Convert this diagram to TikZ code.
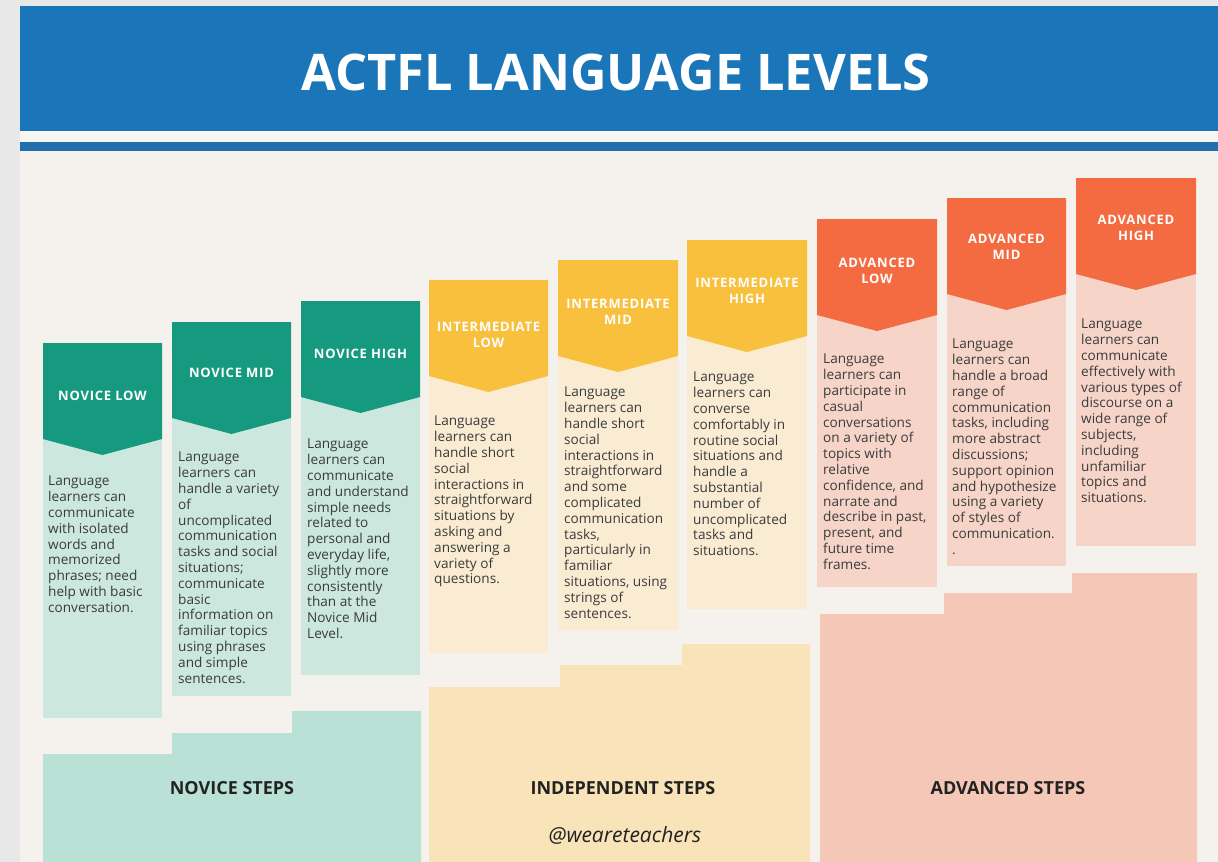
\documentclass[tikz,border=0pt]{standalone}
\usepackage{fontspec}
\setmainfont{Open Sans}
\newfontfamily\hdrfont[LetterSpace=6]{Open Sans}
\definecolor{pageGray}{HTML}{E8E8E8}
\definecolor{cream}{HTML}{F5F2ED}
\definecolor{hdrBlue}{HTML}{1B76B9}
\definecolor{stripeBlue}{HTML}{2170AD}
\definecolor{stripeWhite}{HTML}{F8F6F2}
\definecolor{teal}{HTML}{169A7F}
\definecolor{tealLight}{HTML}{CBE7DE}
\definecolor{tealStep}{HTML}{B9E1D5}
\definecolor{gold}{HTML}{F8C03C}
\definecolor{goldLight}{HTML}{F9ECD3}
\definecolor{goldStep}{HTML}{F8E4B8}
\definecolor{coral}{HTML}{F56B41}
\definecolor{coralLight}{HTML}{F6D5C8}
\definecolor{coralStep}{HTML}{F5C7B7}
\definecolor{textGray}{HTML}{3B3B3B}
\definecolor{stepText}{HTML}{222222}
\begin{document}
\begin{tikzpicture}[x=1bp,y=-1bp,
  hdr/.style={text=white, inner sep=0pt, align=center,
    font={\hdrfont\bfseries\fontsize{13bp}{16bp}\selectfont}},
  body/.style={anchor=north west, text=textGray, inner sep=0pt, align=left,
    font={\fontsize{13.6bp}{15.8bp}\selectfont}},
  steplabel/.style={text=stepText, inner sep=0pt,
    font={\bfseries\fontsize{18bp}{20bp}\selectfont}}]
\useasboundingbox (0,0) rectangle (1218,862);
% backgrounds
\fill[pageGray] (0,0) rectangle (1218,862);
\fill[cream] (20,6) rectangle (1218,862);
\fill[hdrBlue] (20,6) rectangle (1218,131);
\fill[stripeWhite] (20,131) rectangle (1218,142);
\fill[stripeBlue] (20,142) rectangle (1218,150.5);
\node[text=white, inner sep=0pt, font={\bfseries\fontsize{50.5bp}{56bp}\selectfont}] (title) at (616,72) {ACTFL LANGUAGE LEVELS};
% lower step blocks
\fill[tealStep] (43,862) -- (43,754) -- (172,754) -- (172,733) -- (292,733) -- (292,711) -- (421,711) -- (421,862) -- cycle;
\fill[goldStep] (429,862) -- (429,687) -- (560,687) -- (560,665) -- (682,665) -- (682,644) -- (810,644) -- (810,862) -- cycle;
\fill[coralStep] (820,862) -- (820,614) -- (944,614) -- (944,593) -- (1072,593) -- (1072,573) -- (1197,573) -- (1197,862) -- cycle;
\node[steplabel] (novsteps) at (232,788) {NOVICE STEPS};
\node[steplabel] (indsteps) at (623,788) {INDEPENDENT STEPS};
\node[steplabel] (advsteps) at (1008,788) {ADVANCED STEPS};
\node[text=stepText, inner sep=0pt, font={\itshape\fontsize{21bp}{22bp}\selectfont}] (handle) at (625,835) {@weareteachers};
% column 1
\fill[tealLight] (43,343) rectangle (162,718);
\fill[teal] (43,343) -- (162,343) -- (162,439) -- (102.5,455) -- (43,439) -- cycle;
\node[hdr] (h1) at (102.5,396) {NOVICE LOW};
\node[body] (t1) at (48,476) {Language\\learners can\\communicate\\with isolated\\words and\\memorized\\phrases; need\\help with basic\\conversation.};
% column 2
\fill[tealLight] (172,322) rectangle (291,696);
\fill[teal] (172,322) -- (291,322) -- (291,418) -- (231.5,434) -- (172,418) -- cycle;
\node[hdr] (h2) at (231.5,373) {NOVICE MID};
\node[body] (t2) at (178,452) {Language\\learners can\\handle a variety\\of\\uncomplicated\\communication\\tasks and social\\situations;\\communicate\\basic\\information on\\familiar topics\\using phrases\\and simple\\sentences.};
% column 3
\fill[tealLight] (301,301) rectangle (420,675);
\fill[teal] (301,301) -- (420,301) -- (420,397) -- (360.5,413) -- (301,397) -- cycle;
\node[hdr] (h3) at (360.5,354) {NOVICE HIGH};
\node[body] (t3) at (307,439) {Language\\learners can\\communicate\\and understand\\simple needs\\related to\\personal and\\everyday life,\\slightly more\\consistently\\than at the\\Novice Mid\\Level.};
% column 4
\fill[goldLight] (429,280) rectangle (548,653);
\fill[gold] (429,280) -- (548,280) -- (548,376) -- (488.5,392) -- (429,376) -- cycle;
\node[hdr] (h4) at (488.5,335) {INTERMEDIATE\\LOW};
\node[body] (t4) at (434,416) {Language\\learners can\\handle short\\social\\interactions in\\straightforward\\situations by\\asking and\\answering a\\variety of\\questions.};
% column 5
\fill[goldLight] (558,260) rectangle (678,630);
\fill[gold] (558,260) -- (678,260) -- (678,356) -- (618,372) -- (558,356) -- cycle;
\node[hdr] (h5) at (618,312) {INTERMEDIATE\\MID};
\node[body] (t5) at (564,387) {Language\\learners can\\handle short\\social\\interactions in\\straightforward\\and some\\complicated\\communication\\tasks,\\particularly in\\familiar\\situations, using\\strings of\\sentences.};
% column 6
\fill[goldLight] (687,240) rectangle (807,609);
\fill[gold] (687,240) -- (807,240) -- (807,336) -- (747,352) -- (687,336) -- cycle;
\node[hdr] (h6) at (747,291) {INTERMEDIATE\\HIGH};
\node[body] (t6) at (693,372) {Language\\learners can\\converse\\comfortably in\\routine social\\situations and\\handle a\\substantial\\number of\\uncomplicated\\tasks and\\situations.};
% column 7
\fill[coralLight] (817,219) rectangle (937,587);
\fill[coral] (817,219) -- (937,219) -- (937,315) -- (877,331) -- (817,315) -- cycle;
\node[hdr] (h7) at (877,271) {ADVANCED\\LOW};
\node[body] (t7) at (823,354) {Language\\learners can\\participate in\\casual\\conversations\\on a variety of\\topics with\\relative\\confidence, and\\narrate and\\describe in past,\\present, and\\future time\\frames.};
% column 8
\fill[coralLight] (947,198) rectangle (1066,566);
\fill[coral] (947,198) -- (1066,198) -- (1066,294) -- (1006.5,310) -- (947,294) -- cycle;
\node[hdr] (h8) at (1006.5,247) {ADVANCED\\MID};
\node[body] (t8) at (952,339) {Language\\learners can\\handle a broad\\range of\\communication\\tasks, including\\more abstract\\discussions;\\support opinion\\and hypothesize\\using a variety\\of styles of\\communication.\\.};
% column 9
\fill[coralLight] (1076,178) rectangle (1196,546);
\fill[coral] (1076,178) -- (1196,178) -- (1196,274) -- (1136,290) -- (1076,274) -- cycle;
\node[hdr] (h9) at (1136,228) {ADVANCED\\HIGH};
\node[body] (t9) at (1081,319) {Language\\learners can\\communicate\\effectively with\\various types of\\discourse on a\\wide range of\\subjects,\\including\\unfamiliar\\topics and\\situations.};
\end{tikzpicture}
\end{document}
